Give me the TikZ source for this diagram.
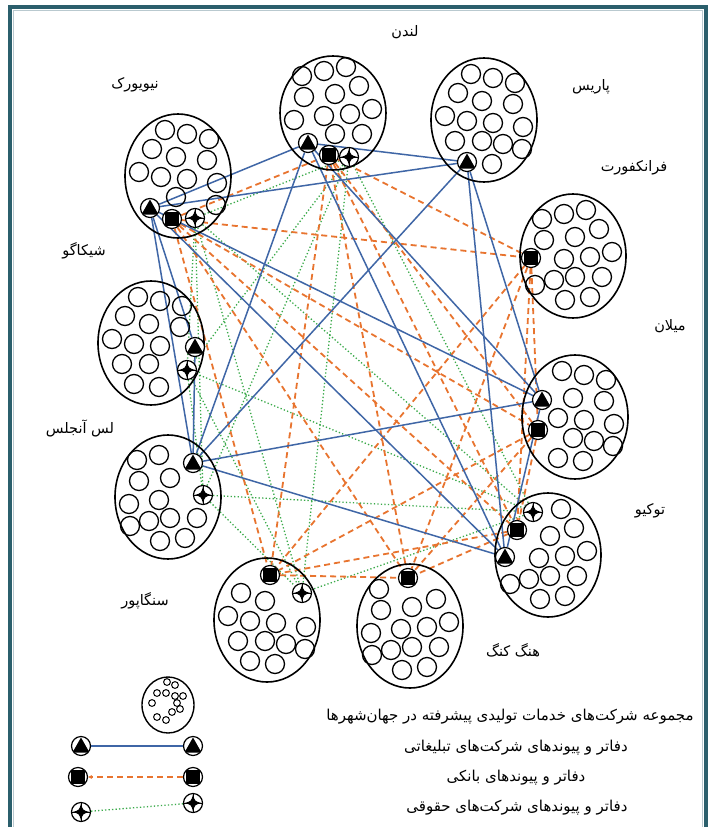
\documentclass[tikz,border=0pt]{standalone}
\usepackage{fontspec}
\newfontfamily\arabicfont[Script=Arabic]{DejaVu Sans}
\TeXXeTstate=1
\usetikzlibrary{shapes.geometric,arrows.meta}
\pgfdeclarelayer{back}
\pgfdeclarelayer{links}
\pgfsetlayers{back,links,main}
\definecolor{framecol}{HTML}{2B5F6C}
\definecolor{framelight}{HTML}{B9C9CF}
\definecolor{advblue}{HTML}{3F66A6}
\definecolor{bankorange}{HTML}{E8742F}
\definecolor{lawgreen}{HTML}{3BAA4A}
\tikzset{
  cityell/.style={draw, ellipse, line width=1.6pt, minimum width=106pt, minimum height=124pt, inner sep=0pt},
  minic/.style={draw, line width=1.3pt},
  markbase/.style={circle, draw, fill=white, line width=1.2pt, minimum size=19pt, inner sep=0pt},
  trimk/.style={markbase, path picture={\begin{scope}[shift={(path picture bounding box.center)}, x=1pt, y=1pt]
      \fill[black] (0,8.5) -- (-8.5,-6.5) -- (8.5,-6.5) -- cycle;\end{scope}}},
  sqmk/.style={markbase, path picture={\begin{scope}[shift={(path picture bounding box.center)}, x=1pt, y=1pt]
      \fill[black] (-7,-7) rectangle (7,7);\end{scope}}},
  crmk/.style={markbase, path picture={\begin{scope}[shift={(path picture bounding box.center)}, x=1pt, y=1pt]
      \fill[black] (0,8.5) .. controls (1.8,1.8) .. (8.5,0) .. controls (1.8,-1.8) .. (0,-8.5)
        .. controls (-1.8,-1.8) .. (-8.5,0) .. controls (-1.8,1.8) .. (0,8.5) -- cycle;
      \draw[black, line width=0.8pt] (-10,0) -- (10,0) (0,-10) -- (0,10);\end{scope}}},
  adv/.style={advblue, line width=1.5pt},
  bank/.style={bankorange, line width=1.8pt, dash pattern=on 6pt off 4pt},
  law/.style={lawgreen, line width=1.3pt, dash pattern=on 1.3pt off 2.2pt},
  citylbl/.style={font=\arabicfont\fontsize{14.5}{16}\selectfont, inner sep=0pt},
  legtxt/.style={font=\arabicfont\fontsize{15}{17}\selectfont, inner sep=0pt},
}
% small circles inside a city: #1 cx, #2 cy, #3 markers, #4 mirror
\newcommand\cityrings[4]{%
  \foreach \dx/\dy in {-13/-46,9/-42,31/-37,-26/-27,-2/-19,29/-16,-39/-4,-17/1,9/3,39/7,-29/21,-2/21,19/24,38/29,8/44,-17/41}{%
    \gdef\cityok{1}%
    \foreach \mx/\my in {#3}{%
      \pgfmathtruncatemacro\cnear{veclen(#1+(#4)*(\dx)-(\mx),#2+(\dy)-(\my))<19.5}%
      \ifnum\cnear=1 \gdef\cityok{0}\fi}%
    \ifnum\cityok=1 \draw[minic] ({#1+(#4)*(\dx)},{#2+(\dy)}) circle[radius=9.5];\fi
  }}
\begin{document}
\begin{tikzpicture}[x=1pt,y=-1pt]
\useasboundingbox (0,0) rectangle (707,827);
\begin{pgfonlayer}{back}
\fill[white] (0,0) rectangle (707,827);
\end{pgfonlayer}
% frame
\draw[framelight, line width=0.8pt] (13,10) rectangle (702.5,870);
\draw[framecol, line width=4pt] (10,7) rectangle (706,870);

% cities
\node[cityell] (ny)  at (178,176) {};
\node[cityell, minimum height=114pt] (lon) at (333,113) {};
\node[cityell] (par) at (484,120) {};
\node[cityell] (fra) at (573,256) {};
\node[cityell] (chi) at (151,343) {};
\node[cityell] (la)  at (168,497) {};
\node[cityell] (mil) at (575,417) {};
\node[cityell] (tok) at (548,555) {};
\node[cityell] (sin) at (267,620) {};
\node[cityell] (hk)  at (410,626) {};

\cityrings{178}{176}{150/208,172/219,195/218}{1}
\cityrings{333}{113}{308/143,329/155,349/157}{-1}
\cityrings{484}{120}{467/162}{1}
\cityrings{573}{256}{531/258}{-1}
\cityrings{151}{343}{195/347,187/370}{1}
\cityrings{168}{497}{193/463,203/495}{-1}
\cityrings{575}{417}{542/400,538/430}{1}
\cityrings{548}{555}{533/512,517/530,505/557}{-1}
\cityrings{267}{620}{270/575,302/593}{1}
\cityrings{410}{626}{408/578}{-1}

% office markers
\node[trimk] (nyT)  at (150,208) {};
\node[sqmk]  (nyS)  at (172,219) {};
\node[crmk]  (nyC)  at (195,218) {};
\node[trimk] (lonT) at (308,143) {};
\node[sqmk]  (lonS) at (329,155) {};
\node[crmk]  (lonC) at (349,157) {};
\node[trimk] (parT) at (467,162) {};
\node[sqmk]  (fraS) at (531,258) {};
\node[trimk] (chiT) at (195,347) {};
\node[crmk]  (chiC) at (187,370) {};
\node[trimk] (laT)  at (193,463) {};
\node[crmk]  (laC)  at (203,495) {};
\node[trimk] (milT) at (542,400) {};
\node[sqmk]  (milS) at (538,430) {};
\node[crmk]  (tokC) at (533,512) {};
\node[sqmk]  (tokS) at (517,530) {};
\node[trimk] (tokT) at (505,557) {};
\node[sqmk]  (sinS) at (270,575) {};
\node[crmk]  (sinC) at (302,593) {};
\node[sqmk]  (hkS)  at (408,578) {};

% links (behind the markers)
\begin{pgfonlayer}{links}
\foreach \a/\b in {nyC/lonC,nyC/chiC,nyC/laC,nyC/tokC,nyC/sinC,lonC/chiC,lonC/laC,lonC/tokC,lonC/sinC,
                   chiC/laC,chiC/tokC,chiC/sinC,laC/tokC,laC/sinC,tokC/sinC}
  \draw[law] (\a) -- (\b);
\foreach \a/\b in {nyS/lonS,nyS/fraS,nyS/milS,nyS/tokS,nyS/sinS,nyS/hkS,lonS/fraS,lonS/milS,lonS/tokS,lonS/sinS,lonS/hkS,
                   fraS/milS,fraS/tokS,fraS/sinS,fraS/hkS,milS/tokS,milS/sinS,milS/hkS,tokS/sinS,tokS/hkS,sinS/hkS}
  \draw[bank] (\a) -- (\b);
\foreach \a/\b in {nyT/lonT,nyT/parT,nyT/chiT,nyT/laT,nyT/milT,nyT/tokT,lonT/parT,lonT/laT,lonT/milT,lonT/tokT,
                   parT/laT,parT/milT,parT/tokT,chiT/laT,laT/milT,laT/tokT,milT/tokT}
  \draw[adv] (\a) -- (\b);
\end{pgfonlayer}

% city names
\node[citylbl] (lonL) at (405,32)  {\beginR لندن\endR};
\node[citylbl] (nyL)  at (135,85)  {\beginR نیویورک\endR};
\node[citylbl] (parL) at (591,87)  {\beginR پاریس\endR};
\node[citylbl] (fraL) at (634,168) {\beginR فرانکفورت\endR};
\node[citylbl] (chiL) at (84,251)  {\beginR شیکاگو\endR};
\node[citylbl] (milL) at (670,326) {\beginR میلان\endR};
\node[citylbl] (laL)  at (80,428)  {\beginR لس آنجلس\endR};
\node[citylbl] (tokL) at (650,511) {\beginR توکیو\endR};
\node[citylbl] (sinL) at (145,601) {\beginR سنگاپور\endR};
\node[citylbl] (hkL)  at (513,650) {\beginR هنگ کنگ\endR};

% legend
\node[draw, ellipse, line width=1.4pt, minimum width=52pt, minimum height=56pt, inner sep=0pt] (lgE) at (168,705) {};
\foreach \x/\y in {167/682,175/685,157/693,166/693,175/696,183/696,152/703,177/703,180/709,172/712,157/717,166/720}
  \draw[line width=1pt] (\x,\y) circle[radius=3.4];
\node[trimk] (lgT1) at (81,746) {};
\node[trimk] (lgT2) at (193,746) {};
\node[sqmk]  (lgS1) at (78,777) {};
\node[sqmk]  (lgS2) at (193,777) {};
\node[crmk]  (lgC1) at (81,812) {};
\node[crmk]  (lgC2) at (193,803) {};
\draw[adv] (lgT1) -- (lgT2);
\draw[bank, -{Stealth[length=4pt,width=4pt]}] (lgS2) -- (lgS1);
\draw[law] (lgC1) -- (lgC2);

\node[legtxt] (lt1) at (510,717) {\beginR مجموعه شرکت‌های خدمات تولیدی پیشرفته در جهان‌شهرها\endR};
\node[legtxt] (lt2) at (516,748) {\beginR دفاتر و پیوندهای شرکت‌های تبلیغاتی\endR};
\node[legtxt] (lt3) at (516,778) {\beginR دفاتر و پیوندهای بانکی\endR};
\node[legtxt] (lt4) at (517,808) {\beginR دفاتر و پیوندهای شرکت‌های حقوقی\endR};
\end{tikzpicture}
\end{document}
